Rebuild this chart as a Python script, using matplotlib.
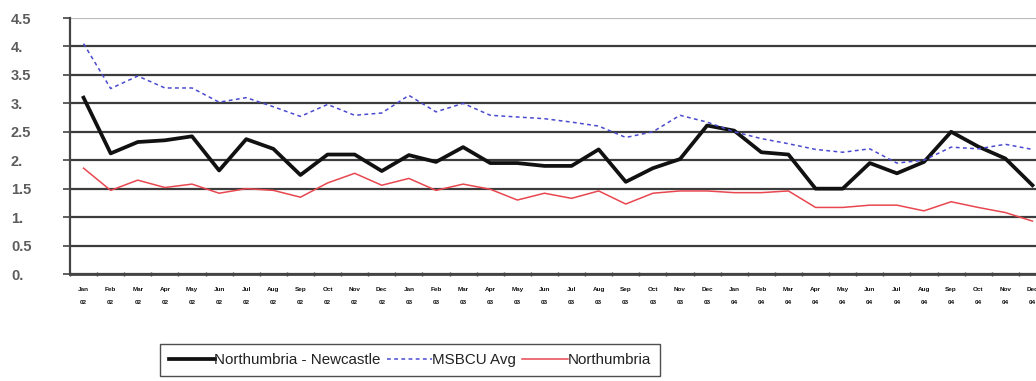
#!/usr/bin/env python3

import numpy as np
import matplotlib.pyplot as plt
from matplotlib.ticker import FixedLocator, FuncFormatter

plt.rcParams['font.family'] = ['Liberation Sans', 'DejaVu Sans']

months = ['Jan', 'Feb', 'Mar', 'Apr', 'May', 'Jun',
          'Jul', 'Aug', 'Sep', 'Oct', 'Nov', 'Dec']
years  = ['02', '03', '04']
xlabels = ['{:}\n{:}'.format(m, y) for y in years for m in months]

newcastle = [3.10, 2.12, 2.32, 2.35, 2.42, 1.82, 2.37, 2.20, 1.74, 2.10, 2.10, 1.81,
             2.09, 1.97, 2.23, 1.95, 1.95, 1.90, 1.90, 2.19, 1.62, 1.86, 2.02, 2.61,
             2.52, 2.14, 2.10, 1.50, 1.50, 1.95, 1.77, 1.97, 2.50, 2.24, 2.03, 1.56]

msbcu     = [4.05, 3.26, 3.48, 3.27, 3.27, 3.02, 3.10, 2.94, 2.77, 2.98, 2.79, 2.83,
             3.14, 2.85, 3.00, 2.79, 2.76, 2.73, 2.67, 2.60, 2.40, 2.50, 2.79, 2.67,
             2.50, 2.38, 2.29, 2.19, 2.14, 2.20, 1.95, 2.00, 2.23, 2.20, 2.28, 2.19]

northumbria = [1.86, 1.47, 1.65, 1.52, 1.58, 1.42, 1.50, 1.47, 1.35, 1.60, 1.77, 1.56,
               1.68, 1.47, 1.58, 1.49, 1.30, 1.42, 1.33, 1.46, 1.23, 1.42, 1.46, 1.46,
               1.43, 1.43, 1.46, 1.17, 1.17, 1.21, 1.21, 1.11, 1.27, 1.17, 1.08, 0.93]

N = len( xlabels )
x = np.arange( N )

fig = plt.figure( figsize = ( 10.36, 3.81 ), dpi = 100 )
# axes run a little past the right edge, as in the original export
ax = fig.add_axes( [ 70/1036, 107/381, 976/1036, 256/381 ] )

ax.plot( x, newcastle, c = '#111111', lw = 2.7, label = 'Northumbria - Newcastle' )
ax.plot( x, msbcu, c = '#4a4ad0', lw = 1.1, ls = ( 0, ( 2.5, 2.2 ) ), label = 'MSBCU Avg' )
ax.plot( x, northumbria, c = '#e8474f', lw = 1.1, label = 'Northumbria' )

ax.set_xlim( -0.5, N - 0.5 )
ax.set_ylim( 0.0, 4.5 )

yt = np.arange( 0.0, 4.51, 0.5 )
ax.set_yticks( yt )
ax.yaxis.set_major_formatter( FuncFormatter(
    lambda v, p: '{:}.'.format( int( v ) ) if abs( v - round( v ) ) < 1e-6 else '{:.1f}'.format( v ) ) )
ax.yaxis.grid( True, color = '#3c3c3c', lw = 1.6 )
ax.get_ygridlines()[-1].set_color( '#bdbdbd' )
ax.set_axisbelow( True )
ax.tick_params( axis = 'y', length = 5, width = 1.2, color = '#444444',
                labelsize = 10.5, labelcolor = '#5c5c5c', pad = 37.5 )
for lab in ax.get_yticklabels():
    lab.set_horizontalalignment( 'left' )
    lab.set_fontweight( 'bold' )

ax.set_xticks( x )
ax.set_xticklabels( xlabels )
ax.tick_params( axis = 'x', which = 'major', length = 0, pad = 9.5,
                labelsize = 4.6, labelcolor = '#111111' )
for lab in ax.get_xticklabels():
    lab.set_fontweight( 'bold' )
    lab.set_linespacing( 2.9 )
ax.xaxis.set_minor_locator( FixedLocator( np.arange( -0.5, N, 1.0 ) ) )
ax.tick_params( axis = 'x', which = 'minor', length = 3, width = 1.0, color = '#444444',
                direction = 'inout' )

for side in [ 'top', 'right' ]:
    ax.spines[side].set_visible( False )
ax.spines['left'].set_color( '#444444' )
ax.spines['left'].set_linewidth( 1.6 )
ax.spines['bottom'].set_color( '#444444' )
ax.spines['bottom'].set_linewidth( 2.0 )

leg = fig.legend( loc = 'upper left', bbox_to_anchor = ( 160/1036, 1 - 344/381 ),
                  ncol = 3, frameon = True, fancybox = False, fontsize = 10.9,
                  handlelength = 3.0, handletextpad = 0.0, columnspacing = 0.4,
                  borderpad = 0.6, borderaxespad = 0.0 )
leg.get_frame().set_edgecolor( '#222222' )
leg.get_frame().set_linewidth( 1.0 )
for t in leg.get_texts():
    t.set_color( '#222222' )

plt.savefig( 'out.png', dpi = 100 )
